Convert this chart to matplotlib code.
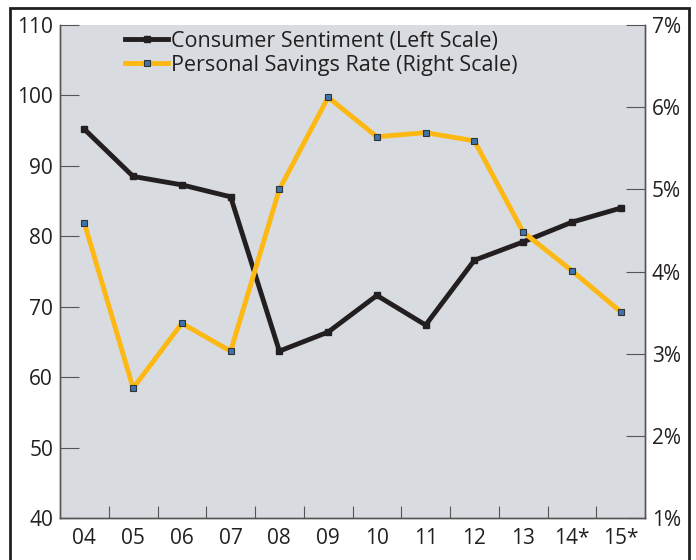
import matplotlib.pyplot as plt
import numpy as np
from matplotlib.patches import Rectangle

# Data
years = ['04', '05', '06', '07', '08', '09', '10', '11', '12', '13', '14*', '15*']
sentiment = [95.2, 88.5, 87.3, 85.6, 63.7, 66.4, 71.6, 67.4, 76.6, 79.2, 82.0, 84.0]
savings = [4.59, 2.58, 3.37, 3.03, 5.00, 6.12, 5.64, 5.69, 5.59, 4.48, 4.01, 3.51]

plt.rcParams['font.family'] = ['Open Sans', 'DejaVu Sans']

fig = plt.figure(figsize=(6.96, 5.6), dpi=100)
ax = fig.add_axes([60 / 696, 1 - 518 / 560, 585 / 696, 493 / 560])
ax.set_facecolor('#d8dce1')
x = np.arange(len(years))

black = '#231f20'
gold = '#fdb813'

l1, = ax.plot(x, sentiment, color=black, lw=3.5, marker='s', ms=5,
              mfc=black, mec=black, zorder=3)
ax2 = ax.twinx()
l2, = ax2.plot(x, savings, color=gold, lw=3.5, marker='s', ms=5,
               mfc='#3d74ad', mec='#333333', mew=0.8, zorder=3)

ax.set_xlim(-0.5, len(years) - 0.5)
ax.set_ylim(40, 110)
ax2.set_ylim(1, 7)
ax.set_yticks(range(40, 111, 10))
ax2.set_yticks(range(1, 8))
ax2.set_yticklabels([f'{v}%' for v in range(1, 8)])

ax.set_xticks(x)
ax.set_xticklabels(years)
ax.set_xticks(np.arange(0.5, len(years) - 1, 1), minor=True)
ax.tick_params(axis='x', which='major', length=0, labelsize=15, pad=7, colors='#231f20')
ax.tick_params(axis='x', which='minor', direction='in', length=9, color='#555555', width=0.8)
ax.tick_params(axis='y', direction='in', length=14, labelsize=15, color='#555555', width=0.8,
               labelcolor='#231f20', pad=5)
ax2.tick_params(axis='y', direction='in', length=14, labelsize=15, color='#555555', width=0.8,
                labelcolor='#231f20', pad=5)

for a in (ax, ax2):
    a.spines['top'].set_visible(False)
    for s in ('left', 'right', 'bottom'):
        a.spines[s].set_color('#555555')
        a.spines[s].set_linewidth(1)

leg = ax2.legend([l1, l2], ['Consumer Sentiment (Left Scale)', 'Personal Savings Rate (Right Scale)'],
                 loc='upper left', bbox_to_anchor=(125 / 696, 1 - 31 / 560),
                 bbox_transform=fig.transFigure, frameon=False, fontsize=15.5,
                 handlelength=2.0, handletextpad=0.12, labelspacing=0.14, borderaxespad=0,
                 borderpad=0)
for t in leg.get_texts():
    t.set_color('#231f20')

# outer frame
fig.patches.append(Rectangle((10 / 696, -0.05), 679 / 696, 1.05 - 8 / 560, transform=fig.transFigure,
                             fill=False, edgecolor='#231f20', lw=2))

fig.savefig('out.png', dpi=100)
